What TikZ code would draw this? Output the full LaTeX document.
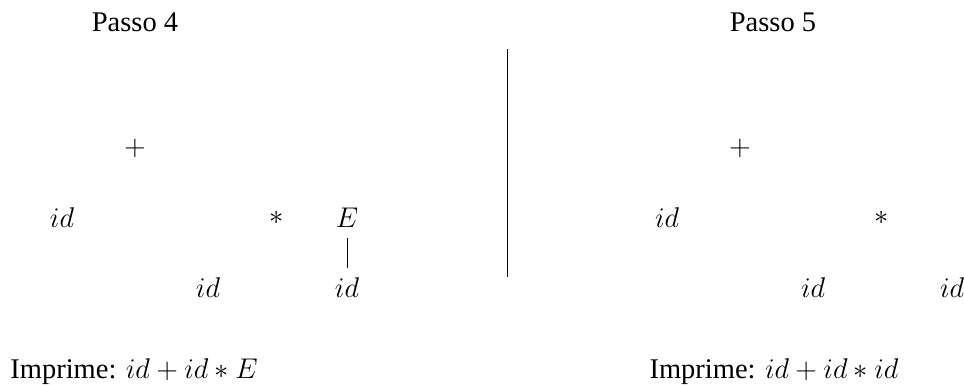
\documentclass[tikz,border=0pt,12pt]{standalone}
\usepackage[no-math]{fontspec}
\setmainfont{Liberation Serif}
\usetikzlibrary{calc}

\begin{document}
\begin{tikzpicture}[x=0.0148cm, y=-0.0148cm]
    % Define the step offset
    \def\stepShift{605}

    % Fix the page size
    \useasboundingbox (0,0) rectangle (964,384);

    % Step 4
    \node (title4) at (135,22) {Passo 4};
    \node (plus4) at (135,148) {$+$};
    \node (idA4) at (62,218) {$id$};
    \node (star4) at (277,218) {$*$};
    \node (E4) at (347,218) {$E$};
    \node (idB4) at (208,288) {$id$};
    \node (idC4) at (347,288) {$id$};
    \draw (E4) -- (idC4);
    \node (print4) at (134,372) {Imprime: $id + id * E$};

    % Separator
    \coordinate (sepTop) at (507,49);
    \coordinate (sepBot) at (507,277);
    \draw (sepTop) -- (sepBot);

    % Step 5
    \node (title5) at (773,22) {Passo 5};
    \node (plus5) at (135+\stepShift,148) {$+$};
    \node (idA5) at (62+\stepShift,218) {$id$};
    \node (star5) at (277+\stepShift,218) {$*$};
    \node (idB5) at (208+\stepShift,288) {$id$};
    \node (idC5) at (347+\stepShift,288) {$id$};
    \node (print5) at (774,372) {Imprime: $id + id * id$};
\end{tikzpicture}
\end{document}
